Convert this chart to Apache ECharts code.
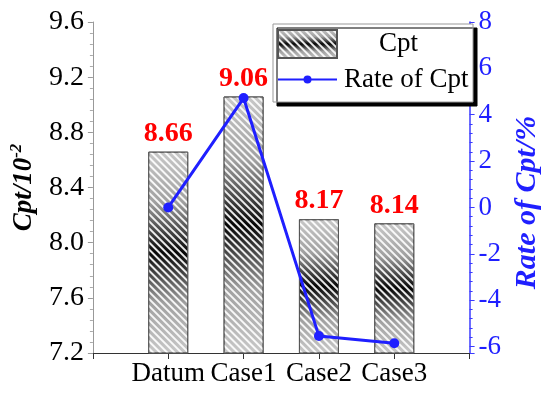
<!DOCTYPE html>
<html>
<head>
<meta charset="utf-8">
<script src="https://cdn.jsdelivr.net/npm/echarts@6/dist/echarts.min.js"></script>
<style>html,body{margin:0;padding:0;background:#fff}#c{width:550px;height:397px}</style>
</head>
<body>
<div id="c"></div>
<script>
const categories = ['Datum', 'Case1', 'Case2', 'Case3'];
const cptValues = [8.66, 9.06, 8.17, 8.14];
const rateValues = [0, 4.72, -5.55, -5.86];
const leftAxisRange = [7.2, 9.6];
const leftInterval = 0.4;
const rightAxisRange = [-6.28, 8];

const FONT = '"Liberation Serif", "Times New Roman", serif';
const BLUE = '#1f1fff';
const AXBLUE = '#3b3bff';

const xData = [''].concat(categories).concat(['']);
const barData = [null].concat(cptValues).concat([null]);
const lineData = [null].concat(rateValues).concat([null]);

const chart = echarts.init(document.getElementById('c'));
chart.setOption({
  animation: false,
  backgroundColor: '#fff',
  grid: { left: 86, right: 68, top: 22, bottom: 44 },
  legend: [
    {
      orient: 'vertical',
      left: 273,
      top: 24,
      padding: [5, 55, 43, 4],
      itemWidth: 59,
      itemHeight: 28,
      backgroundColor: '#fff',
      borderColor: '#999',
      borderWidth: 1,
      shadowColor: '#000',
      shadowOffsetX: 4,
      shadowOffsetY: 4,
      shadowBlur: 0,
      z: 4,
      textStyle: { fontFamily: FONT, fontSize: 27, color: '#000' },
      data: [{ name: 'Cpt', icon: 'rect', textStyle: { padding: [0, 0, 0, 37] } }]
    },
    {
      orient: 'vertical',
      left: 273,
      top: 66,
      padding: [0, 0, 0, 4],
      itemWidth: 59,
      itemHeight: 10,
      z: 6,
      textStyle: { fontFamily: FONT, fontSize: 27, color: '#000', padding: [0, 0, 0, 2] },
      data: ['Rate of Cpt']
    }
  ],
  xAxis: {
    type: 'category',
    data: xData,
    boundaryGap: false,
    axisLine: { onZero: false, lineStyle: { color: '#333', width: 1 } },
    axisTick: { show: true, length: 6, lineStyle: { color: '#333' } },
    axisLabel: { fontFamily: FONT, fontSize: 27, color: '#000', margin: 7, interval: 0 },
    splitLine: { show: false }
  },
  yAxis: [
    {
      type: 'value',
      min: leftAxisRange[0],
      max: leftAxisRange[1],
      interval: leftInterval,
      position: 'left',
      name: '{a|Cpt/10}{b|-2}',
      nameLocation: 'middle',
      nameGap: 50,
      nameRotate: 90,
      nameTextStyle: {
        rich: {
          a: { fontFamily: FONT, fontSize: 27, fontWeight: 'bold', fontStyle: 'italic', color: '#000', lineHeight: 30, verticalAlign: 'bottom' },
          b: { fontFamily: FONT, fontSize: 17, fontWeight: 'bold', fontStyle: 'italic', color: '#000', lineHeight: 30, verticalAlign: 'top' }
        }
      },
      axisLine: { show: true, lineStyle: { color: '#999' } },
      axisTick: { show: true, length: 5, lineStyle: { color: '#999' } },
      minorTick: { show: true, splitNumber: 5, length: 3, lineStyle: { color: '#aaa' } },
      axisLabel: { fontFamily: FONT, fontSize: 28, color: '#000', margin: 9, formatter: v => v.toFixed(1) },
      splitLine: { show: false }
    },
    {
      type: 'value',
      min: rightAxisRange[0],
      max: rightAxisRange[1],
      splitNumber: 7,
      position: 'right',
      name: 'Rate of Cpt/%',
      nameLocation: 'middle',
      nameGap: 40,
      nameRotate: 90,
      nameTextStyle: { fontFamily: FONT, fontSize: 30, fontWeight: 'bold', fontStyle: 'italic', color: BLUE, padding: [0, 30, 0, 0] },
      axisLine: { show: true, onZero: false, lineStyle: { color: AXBLUE, width: 1.5 } },
      axisTick: { show: true, length: 5, lineStyle: { color: AXBLUE } },
      minorTick: { show: true, splitNumber: 5, length: 3, lineStyle: { color: AXBLUE } },
      axisLabel: { fontFamily: FONT, fontSize: 27, color: BLUE, margin: 9, showMinLabel: false },
      splitLine: { show: false }
    }
  ],
  series: [
    {
      name: 'Cpt',
      type: 'bar',
      yAxisIndex: 0,
      data: barData,
      barWidth: 40,
      itemStyle: {
        color: new echarts.graphic.LinearGradient(0, 0, 0, 1, [
          { offset: 0, color: '#c8c8c8' },
          { offset: 0.25, color: '#a0a0a0' },
          { offset: 0.5, color: '#050505' },
          { offset: 0.75, color: '#a0a0a0' },
          { offset: 1, color: '#c8c8c8' }
        ]),
        borderColor: '#555',
        borderWidth: 1,
        decal: {
          symbol: 'rect',
          color: 'rgba(255,255,255,0.9)',
          dashArrayX: [1, 0],
          dashArrayY: [2, 2.6],
          rotation: Math.PI / 4
        }
      },
      label: {
        show: true,
        position: 'top',
        distance: 4,
        fontFamily: FONT,
        fontSize: 28,
        fontWeight: 'bold',
        color: '#ff0000',
        formatter: p => p.value.toFixed(2)
      },
      z: 2
    },
    {
      name: 'Rate of Cpt',
      type: 'line',
      yAxisIndex: 1,
      data: lineData,
      symbol: 'circle',
      symbolSize: 10,
      lineStyle: { color: BLUE, width: 3 },
      itemStyle: { color: BLUE },
      z: 5
    }
  ]
});
</script>
</body>
</html>
